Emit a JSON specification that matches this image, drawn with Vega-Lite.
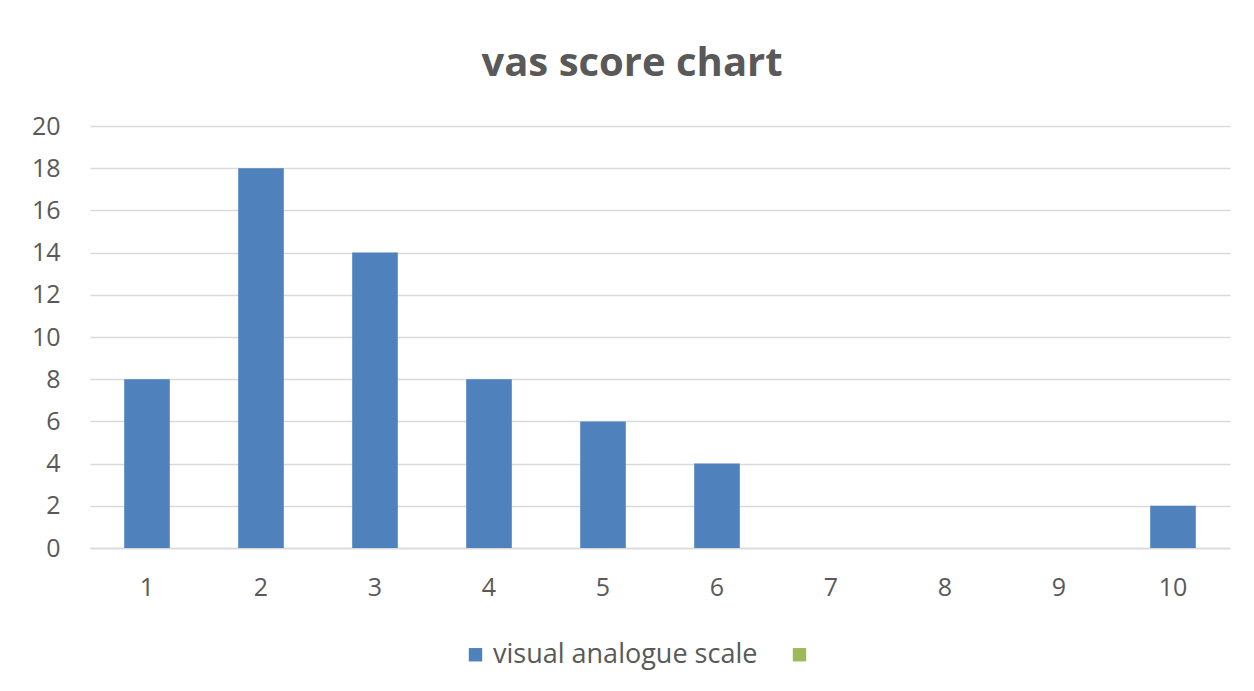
{
  "$schema": "https://vega.github.io/schema/vega-lite/v6.json",
  "width": 1140,
  "height": 422,
  "autosize": {"type": "none"},
  "padding": {"left": 90, "top": 126, "right": 24, "bottom": 143},
  "background": "white",
  "title": {
    "text": "vas score chart",
    "font": "Open Sans",
    "fontSize": 40,
    "fontWeight": "bold",
    "color": "#595959",
    "anchor": "middle",
    "dx": -28,
    "offset": 30
  },
  "data": {
    "values": [
      {"score": "1", "count": 8, "series": "visual analogue scale"},
      {"score": "2", "count": 18, "series": "visual analogue scale"},
      {"score": "3", "count": 14, "series": "visual analogue scale"},
      {"score": "4", "count": 8, "series": "visual analogue scale"},
      {"score": "5", "count": 6, "series": "visual analogue scale"},
      {"score": "6", "count": 4, "series": "visual analogue scale"},
      {"score": "7", "count": 0, "series": "visual analogue scale"},
      {"score": "8", "count": 0, "series": "visual analogue scale"},
      {"score": "9", "count": 0, "series": "visual analogue scale"},
      {"score": "10", "count": 2, "series": "visual analogue scale"}
    ]
  },
  "mark": {"type": "bar"},
  "encoding": {
    "x": {
      "field": "score",
      "type": "ordinal",
      "sort": null,
      "scale": {"paddingInner": 0.6, "paddingOuter": 0.3},
      "axis": {
        "title": null,
        "labelAngle": 0,
        "labelFont": "Open Sans",
        "labelFontSize": 25,
        "labelColor": "#595959",
        "labelPadding": 27,
        "ticks": false,
        "domain": true,
        "domainColor": "#d9d9d9",
        "domainWidth": 1.5
      }
    },
    "y": {
      "field": "count",
      "type": "quantitative",
      "scale": {"domain": [0, 20]},
      "axis": {
        "title": null,
        "values": [0, 2, 4, 6, 8, 10, 12, 14, 16, 18, 20],
        "labelFont": "Open Sans",
        "labelFontSize": 25,
        "labelColor": "#595959",
        "labelPadding": 30,
        "ticks": false,
        "domain": false,
        "grid": true,
        "gridColor": "#d9d9d9",
        "gridWidth": 1.5
      }
    },
    "color": {
      "field": "series",
      "type": "nominal",
      "scale": {
        "domain": ["visual analogue scale", " "],
        "range": ["#4f81bd", "#9bbb59"]
      },
      "legend": {
        "title": null,
        "orient": "none",
        "direction": "horizontal",
        "legendX": 372,
        "legendY": 515,
        "symbolType": "square",
        "symbolSize": 180,
        "symbolStrokeWidth": 0,
        "labelFont": "Open Sans",
        "labelFontSize": 27,
        "labelColor": "#595959",
        "labelLimit": 400,
        "columnPadding": 28,
        "labelOffset": 4
      }
    }
  },
  "config": {
    "view": {"stroke": null}
  }
}
